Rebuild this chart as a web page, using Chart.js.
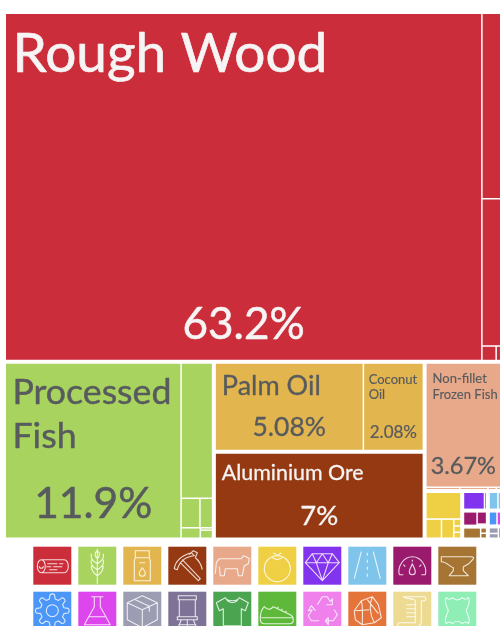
<!DOCTYPE html>
<html>
<head>
<meta charset="utf-8">
<title>Export treemap</title>
<style>
  html, body { margin: 0; padding: 0; background: #fff; width: 500px; height: 626px; overflow: hidden; }
  canvas { display: block; }
</style>
<script src="https://cdn.jsdelivr.net/npm/chart.js@4/dist/chart.umd.min.js"></script>
</head>
<body>
<canvas id="map" width="502" height="626"></canvas>
<script>
// Export shares in percent, one list per branch of the treemap.
const woodShares = [63.2, 1.42, 1.12, 0.085, 0.035];
const fishShares = [11.9, 1.69, 0.21, 0.155, 0.085, 0.012, 0.048];
const oilShares = [5.08, 2.08];
const oreShares = [7];
const animalShares = [3.67, 0.05, 0.04, 0.012, 0.008];
const fruitShares = [0.40, 0.13, 0.095, 0.022, 0.02, 0.023];
const gemShares = [0.165, 0.025];
const fuelShares = [0.09, 0.055, 0.01];
const metalShares = [0.09, 0.018, 0.017];
const roadShares = [0.075, 0.03];
const machineShares = [0.055, 0.03];
const paperShares = [0.028, 0.024, 0.018];

const nameLabels = ['Rough Wood', 'Processed Fish', 'Palm Oil', 'Coconut Oil', 'Aluminium Ore', 'Non-fillet Frozen Fish'];
const shareLabels = ['63.2%', '11.9%', '5.08%', '2.08%', '7%', '3.67%'];

const sectionColors = {
  wood: '#CB2E3A', food: '#A8D35E', oil: '#E3B54F', ore: '#953912', animal: '#E8A98A',
  fruit: '#EFCF43', gem: '#8233ED', road: '#7FC4EA', fuel: '#9A1B6E', metal: '#A67534',
  machine: '#4C96F7', chem: '#DC46EC', paper: '#9C9CB2'
};
const legendColors = ['#CB2E3A', '#A8D35E', '#E3B54F', '#953912', '#E8A98A', '#EFCF43', '#8233ED', '#7FC4EA', '#9A1B6E', '#A67534',
  '#4C96F7', '#DC46EC', '#9C9CB2', '#7E7396', '#4AA450', '#5EB93A', '#EF80EC', '#E5743B', '#EDDB93', '#8FEDB6'];

// Split tree: h = side by side, v = stacked; "box" nodes keep a wider margin.
const leaf = (value, color, label) => ({ value, color, label });
const h = (children, box) => ({ dir: 'h', children, box });
const v = (children, box) => ({ dir: 'v', children, box });
const leaves = (vals, color) => vals.map(x => leaf(x, color));

const tree = v([
  h([
    leaf(woodShares[0], sectionColors.wood, 0),
    v([leaf(woodShares[1], sectionColors.wood), leaf(woodShares[2], sectionColors.wood),
       h(leaves(woodShares.slice(3), sectionColors.wood))])
  ], true),
  h([
    h([
      leaf(fishShares[0], sectionColors.food, 1),
      v([leaf(fishShares[1], sectionColors.food),
         h(leaves(fishShares.slice(2, 4), sectionColors.food)),
         h([leaf(fishShares[4], sectionColors.food), v(leaves(fishShares.slice(5), sectionColors.food))])])
    ], true),
    v([
      h([leaf(oilShares[0], sectionColors.oil, 2), leaf(oilShares[1], sectionColors.oil, 3)], true),
      h([leaf(oreShares[0], sectionColors.ore, 4)], true)
    ]),
    v([
      v([leaf(animalShares[0], sectionColors.animal, 5), h(leaves(animalShares.slice(1), sectionColors.animal))], true),
      h([
        v([leaf(fruitShares[0], sectionColors.fruit),
           h([leaf(fruitShares[1], sectionColors.fruit), leaf(fruitShares[2], sectionColors.fruit),
              v(leaves(fruitShares.slice(3), sectionColors.fruit))])], true),
        v([h(leaves(gemShares, sectionColors.gem), true),
           h([leaf(fuelShares[0], sectionColors.fuel), v(leaves(fuelShares.slice(1), sectionColors.fuel))], true),
           h([leaf(metalShares[0], sectionColors.metal), v(leaves(metalShares.slice(1), sectionColors.metal))], true)], true),
        v([h(leaves(roadShares, sectionColors.road), true),
           h(leaves(machineShares, sectionColors.machine).map((n, i) => i ? { ...n, color: sectionColors.chem } : n), true),
           h([v(leaves(paperShares.slice(0, 2), sectionColors.paper)), leaf(paperShares[2], sectionColors.paper)], true)], true)
      ])
    ])
  ])
]);

const total = n => n.children ? n.children.reduce((s, c) => s + total(c), 0) : n.value;

// Walks the tree and yields one record per cell in 0-100 axis units.
function layout(node, x0, y0, x1, y1, boxes, out) {
  if (!node.children) {
    out.push({ x: x0, y: y0, x1, y1, boxes, color: node.color, label: node.label, value: node.value });
    return out;
  }
  const held = node.box ? boxes.concat([[x0, y0, x1, y1]]) : boxes;
  const sum = total(node);
  let at = node.dir === 'h' ? x0 : y0;
  for (const c of node.children) {
    const part = total(c) / sum;
    if (node.dir === 'h') {
      const end = at + (x1 - x0) * part;
      layout(c, at, y0, end, y1, held, out);
      at = end;
    } else {
      const end = at + (y1 - y0) * part;
      layout(c, x0, at, x1, end, held, out);
      at = end;
    }
  }
  return out;
}

const BOX_MARGIN = 1.25;
const CELL_MARGIN = 0.75;

// Treemap cells are ordinary bar elements placed from the x and y scales.
class TreemapController extends Chart.DatasetController {
  update(mode) {
    const meta = this._cachedMeta;
    this.updateElements(meta.data, 0, meta.data.length, mode);
  }
  updateElements(rects, start, count, mode) {
    const { xScale, yScale } = this._cachedMeta;
    const cells = this.getDataset().data;
    for (let i = start; i < start + count; i++) {
      const c = cells[i];
      let l = xScale.getPixelForValue(c.x), r = xScale.getPixelForValue(c.x1);
      let t = yScale.getPixelForValue(c.y), b = yScale.getPixelForValue(c.y1);
      for (const box of c.boxes) {
        l = Math.max(l, xScale.getPixelForValue(box[0]) + BOX_MARGIN);
        t = Math.max(t, yScale.getPixelForValue(box[1]) + BOX_MARGIN);
        r = Math.min(r, xScale.getPixelForValue(box[2]) - BOX_MARGIN);
        b = Math.min(b, yScale.getPixelForValue(box[3]) - BOX_MARGIN);
      }
      l += CELL_MARGIN; t += CELL_MARGIN; r -= CELL_MARGIN; b -= CELL_MARGIN;
      this.updateElement(rects[i], i, {
        x: (l + r) / 2, y: t, base: Math.max(b, t), width: Math.max(r - l, 0), height: Math.max(b - t, 0),
        horizontal: false, inflateAmount: 0, enableBorderRadius: false, borderSkipped: {},
        options: this.resolveDataElementOptions(i, mode)
      }, mode);
    }
  }
}
TreemapController.id = 'treemap';
TreemapController.defaults = { dataElementType: 'bar', datasetElementType: false };
Chart.register(TreemapController);

// Text placement per labelled cell: name block and the share underneath it.
const FONT = 'Lato, sans-serif';
const WHITE = '#F6F4F4';
const SLATE = '#585B5E';
const labelStyles = [
  { color: WHITE, nameSize: 55, lines: ['Rough Wood'], nameX: 6.5, nameY: 58, lead: 0, shareSize: 44, shareBottom: 20.5 },
  { color: SLATE, nameSize: 35.7, lines: ['Processed', 'Fish'], nameX: 6.5, nameY: 40, lead: 44, shareSize: 42.5, shareBottom: 20 },
  { color: SLATE, nameSize: 27, lines: ['Palm Oil'], nameX: 6, nameY: 31, lead: 0, shareSize: 26.5, shareBottom: 14 },
  { color: SLATE, nameSize: 13, lines: ['Coconut', 'Oil'], nameX: 4.5, nameY: 20, lead: 15, shareSize: 17, shareBottom: 12 },
  { color: WHITE, nameSize: 21.4, lines: ['Aluminium Ore'], nameX: 6, nameY: 26, lead: 0, shareSize: 27.5, shareBottom: 13 },
  { color: SLATE, nameSize: 13, lines: ['Non-fillet', 'Frozen Fish'], nameX: 6, nameY: 19, lead: 16, shareSize: 23.5, shareBottom: 12 }
];

const cellLabels = {
  id: 'cellLabels',
  afterDatasetsDraw(chart) {
    const { ctx } = chart;
    const meta = chart.getDatasetMeta(0);
    ctx.save();
    ctx.textBaseline = 'alphabetic';
    ctx.lineJoin = 'round';
    const paint = (text, x, y, size) => {
      ctx.lineWidth = size * 0.012;
      ctx.font = `${size}px ${FONT}`;
      ctx.fillText(text, x, y);
      ctx.strokeText(text, x, y);
    };
    chart.data.datasets[0].data.forEach((cell, i) => {
      if (cell.label === undefined) return;
      const s = labelStyles[cell.label];
      const el = meta.data[i];
      const left = el.x - el.width / 2, top = el.y, bottom = el.base;
      ctx.fillStyle = s.color;
      ctx.strokeStyle = s.color;
      ctx.textAlign = 'left';
      s.lines.forEach((line, k) => paint(line, left + s.nameX, top + s.nameY + k * s.lead, s.nameSize));
      ctx.textAlign = 'center';
      paint(shareLabels[cell.label], el.x, bottom - s.shareBottom, s.shareSize);
    });
    ctx.restore();
  }
};

// Section key: a tile and a white line icon for each of the twenty sections.
function gearPath() {
  let d = '';
  const teeth = 8, cx = 19, cy = 19;
  for (let i = 0; i < teeth; i++) {
    const a = i / teeth * Math.PI * 2;
    const w = Math.PI / teeth;
    const pt = (r, t) => `${(cx + r * Math.cos(t)).toFixed(1)} ${(cy + r * Math.sin(t)).toFixed(1)}`;
    d += (i ? 'L' : 'M') + pt(12, a - w * 0.62) + 'L' + pt(16, a - w * 0.36) + 'A3 3 0 0 1 ' + pt(16, a + w * 0.36) + 'L' + pt(12, a + w * 0.62);
  }
  return d + 'ZM25 19A6 6 0 1 1 13 19A6 6 0 1 1 25 19Z';
}
const legendIcons = [
  'M8 13H31A4 6.5 0 0 1 31 26H8A4 6.5 0 0 1 8 13ZM8 13A4 6.5 0 0 1 8 26M6 19.5a2 2 0 0 0 4 0M14 17H24M26 17H30M13 20H18M20 20H29M16 23H24',
  'M19 2V37M19 4C16 6 16 9 19 12C22 9 22 6 19 4ZM13 7C12 12 15 15 19 17M25 7C26 12 23 15 19 17M13 13C12 18 15 21 19 23M25 13C26 18 23 21 19 23M13 19C13 24 16 27 19 29M25 19C25 24 22 27 19 29',
  'M12 4H26V11H12ZM12 11L11 14V34H27V14L26 11M16 16H22M19 21C17 24 16 25 16 26.5A3 3 0 0 0 22 26.5C22 25 21 24 19 21Z',
  'M6 22C7 14 13 9 23 6L26 9C17 10 11 15 9 23ZM21 8L25 4L29 6L27 11M14 13L32 32L30 34L12 16M27 11C31 14 33 18 34 23',
  'M2 27L3 16L6 12H28L30 9L33 10L36 12L35 17L31 19L29 29H25L24 22H12L11 29H7L6 20',
  'M32 22A13 13 0 1 1 6 22A13 13 0 1 1 32 22ZM19 9L15 6M19 9L23 6M14 11L19 13L24 11',
  'M9 7H29L36 16L19 34L2 16ZM2 16H36M9 7L13 16L19 34L25 16L29 7M13 16L19 7L25 16',
  'M13 5L6 32M25 5L32 32M19 6V9M19 13V16M19 20V23M19 27V30',
  'M6 28C4 20 10 10 19 10C28 10 34 20 32 28H28M10 28H6M19 13V15M10 18L12 20M28 18L26 20M19 17C17 22 16 23 16 25A3 3 0 0 0 22 25C22 23 21 22 19 17Z',
  'M3 10H33C35 10 36 11 35 12C31 18 27 19 25 20V24L30 29H11L15 24V21C11 20 9 15 3 15Z',
  gearPath(),
  'M13 5H25M16 5V15L6 33H32L22 15V5M11 25H27',
  'M19 4L34 11V28L19 36L4 28V11ZM4 11L19 18L34 11M19 18V36M11 7.5L26 14.5V20',
  'M10 4H28V8H10ZM11 8V25H27V8M9 25H29V28H9ZM13 28L9 38M25 28L29 38M19 28V38M10 33H28',
  'M12 6C14 10 24 10 26 6L35 11L32 19L28 17V34H10V17L6 19L3 11ZM13 7C15 12 23 12 25 7',
  'M2 27C2 20 4 17 6 15C9 18 12 19 15 15L32 23C34 24 35 26 35 28C35 31 33 32 31 32H6C3 32 2 30 2 27ZM3 26H35M19 17L20 15M23 19L24 17M27 21L28 19',
  'M14 13L19 5H24L27 10M27 10L29 7V13H23M16 29H8L5 24L9 18M9 18L5 19L8 14L12 19M22 29H30L34 23L31 18M22 29L25 33V26L22 29',
  'M6 19L13 9L24 5L30 13L33 26L26 31L14 33L7 28ZM13 9C15 16 14 24 14 33M24 5C21 12 21 22 26 31M7 19L21 18M19 8L30 22',
  'M10 5H31C33 5 33 9 31 9H28V30C28 33 26 35 24 35H6C4 35 4 31 6 31H22V9C22 7 11 7 10 5ZM13 13H23M13 17H23M13 21H23M13 25H23',
  'M8 6C10 8 12 8 14 6C17 9 21 9 24 6C26 8 28 8 30 6C33 10 29 15 28 19C29 23 33 28 30 32C28 30 26 30 24 32C21 29 17 29 14 32C12 30 10 30 8 32C5 28 9 23 10 19C9 15 5 10 8 6Z'
];

const sectionKey = {
  id: 'sectionKey',
  afterDraw(chart) {
    const { ctx } = chart;
    ctx.save();
    legendColors.forEach((color, i) => {
      const col = i % 10, row = Math.floor(i / 10);
      const x = 33.3 + col * 45, y = 546.7 + row * 45;
      ctx.fillStyle = color;
      ctx.fillRect(x, y, 38, 38);
      ctx.save();
      ctx.translate(x, y);
      ctx.strokeStyle = 'rgba(255,255,255,0.82)';
      ctx.lineWidth = 1.1;
      ctx.lineJoin = 'round';
      ctx.stroke(new Path2D(legendIcons[i]));
      ctx.restore();
    });
    ctx.restore();
  }
};

new Chart(document.getElementById('map'), {
  type: 'treemap',
  data: {
    datasets: [{
      data: layout(tree, 0, 0, 100, 100, [], []),
      backgroundColor: ctx => ctx.raw ? ctx.raw.color : '#ccc',
      borderWidth: 0
    }]
  },
  options: {
    responsive: false,
    animation: false,
    events: [],
    layout: { padding: { left: 4, right: 0, top: 12, bottom: 86.5 } },
    scales: {
      x: { type: 'linear', display: false, min: 0, max: 100 },
      y: { type: 'linear', display: false, min: 0, max: 100, reverse: true }
    },
    plugins: { legend: { display: false }, tooltip: { enabled: false } }
  },
  plugins: [cellLabels, sectionKey]
});
</script>
</body>
</html>
